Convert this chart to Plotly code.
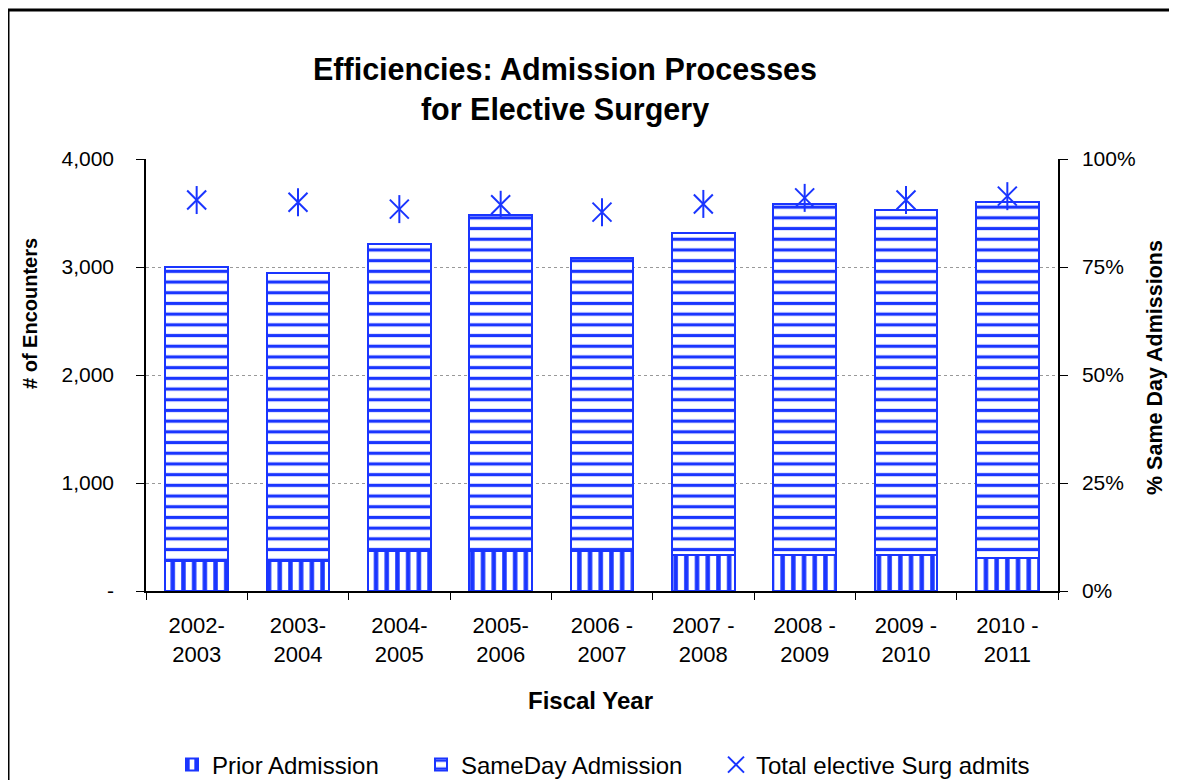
import plotly.graph_objects as go

# fiscal years and values
years = ["2002-<br>2003", "2003-<br>2004", "2004-<br>2005", "2005-<br>2006", "2006 -<br>2007",
         "2007 -<br>2008", "2008 -<br>2009", "2009 -<br>2010", "2010 -<br>2011"]
prior_admission = [280, 280, 370, 370, 370, 335, 335, 335, 305]
sameday_admission = [2720, 2665, 2845, 3110, 2715, 2980, 3250, 3195, 3300]
pct_sameday = [0.905, 0.900, 0.884, 0.894, 0.877, 0.896, 0.910, 0.905, 0.914]

y_ticks = [0, 1000, 2000, 3000, 4000]
y_ticktext = ["-", "1,000", "2,000", "3,000", "4,000"]
y2_ticks = [0, 0.25, 0.5, 0.75, 1.0]

blue = "#1a35ff"
font = "Liberation Sans, Arial, sans-serif"

W, H = 1177, 830   # taller than the window so the legend never pushes the margins
OFF = 8   # page body margin shifts the figure by 8px
L, R, T, B = 146, 1058, 159, 591   # plot area in reference pixels


def px(x):
    return (x - L) / (R - L)


def py(y):
    return (B - y) / (B - T)


fig = go.Figure()

fig.add_trace(go.Bar(
    x=years, y=prior_admission, name="Prior Admission",
    marker=dict(color="white", line=dict(color=blue, width=2),
                pattern=dict(shape="|", fgcolor=blue, bgcolor="white", fgopacity=1,
                             size=10.7, solidity=0.42)),
    legend="legend",
))
fig.add_trace(go.Bar(
    x=years, y=sameday_admission, name="SameDay Admission",
    marker=dict(color="white", line=dict(color=blue, width=2),
                pattern=dict(shape="-", fgcolor=blue, bgcolor="white", fgopacity=1,
                             size=10.7, solidity=0.3)),
    legend="legend2",
))
# asterisk = X plus vertical bar
fig.add_trace(go.Scatter(
    x=years, y=pct_sameday, yaxis="y2", mode="markers", name="Total elective Surg admits",
    marker=dict(symbol="x-thin-open", size=19, line=dict(color=blue, width=2), color=blue),
    legend="legend3",
))
fig.add_trace(go.Scatter(
    x=years, y=pct_sameday, yaxis="y2", mode="markers", showlegend=False,
    marker=dict(symbol="line-ns-open", size=20, line=dict(color=blue, width=2), color=blue),
))

axis_common = dict(showline=True, linecolor="black", linewidth=1.5, ticks="outside",
                   tickcolor="black", zeroline=False)

fig.update_layout(
    width=W, height=H,
    margin=dict(l=L - OFF, r=W - R + OFF, t=T - OFF, b=H - B + OFF),
    paper_bgcolor="white", plot_bgcolor="white",
    font=dict(family=font, size=21, color="black"),
    barmode="stack", bargap=0.38,
    xaxis=dict(**axis_common, range=[-0.5, 8.5], tickson="boundaries", ticklen=7,
               tickfont=dict(size=22), ticklabelstandoff=14),
    yaxis=dict(**axis_common, range=[0, 4000], tickvals=y_ticks, ticktext=y_ticktext, ticklen=8,
               showgrid=True, gridcolor="#999999", griddash="dot", gridwidth=1,
               tickfont=dict(size=21), ticklabelstandoff=18),
    yaxis2=dict(**axis_common, range=[0, 1], overlaying="y", side="right", tickvals=y2_ticks,
                tickformat=".0%", ticklen=8, showgrid=False, tickfont=dict(size=21),
                ticklabelstandoff=10),
)
for name, xpos in [("legend", 172), ("legend2", 421), ("legend3", 716)]:
    fig.update_layout({name: dict(orientation="h", x=px(xpos), y=py(765), xanchor="left",
                                  yanchor="middle", font=dict(size=24), bgcolor="rgba(0,0,0,0)")})

fig.add_annotation(text="<b>Efficiencies: Admission Processes<br>for Elective Surgery</b>",
                   xref="paper", yref="paper", x=px(565), y=py(89), showarrow=False,
                   font=dict(size=30.5), xanchor="center", yanchor="middle")
fig.add_annotation(text="<b>Fiscal Year</b>", xref="paper", yref="paper", x=px(590), y=py(700),
                   showarrow=False, font=dict(size=24), xanchor="center", yanchor="middle")
fig.add_annotation(text="<b># of Encounters</b>", xref="paper", yref="paper", x=px(30), y=py(314),
                   showarrow=False, font=dict(size=20), textangle=-90,
                   xanchor="center", yanchor="middle")
fig.add_annotation(text="<b>% Same Day Admissions</b>", xref="paper", yref="paper", x=px(1155),
                   y=py(368), showarrow=False, font=dict(size=21.5), textangle=-90,
                   xanchor="center", yanchor="middle")

# outer chart border
fig.add_shape(type="rect", xref="paper", yref="paper", x0=px(8), x1=px(1200), y0=py(850), y1=py(10),
              line=dict(color="black", width=3), fillcolor="rgba(0,0,0,0)", layer="below")

fig.write_html("out.html")
